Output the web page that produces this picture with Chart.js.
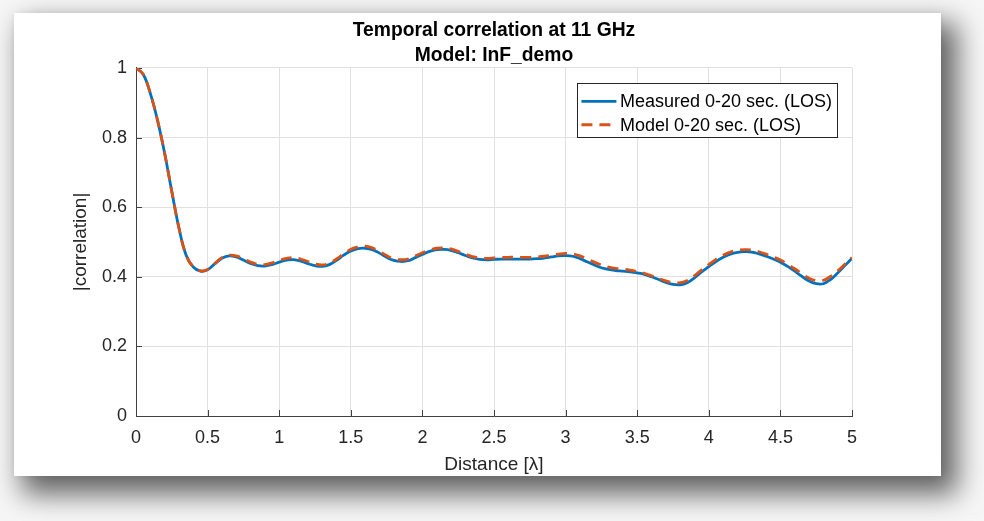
<!DOCTYPE html>
<html>
<head>
<meta charset="utf-8">
<script src="https://cdn.jsdelivr.net/npm/chart.js@4.4.1/dist/chart.umd.min.js"></script>
<style>
    body {
        margin: 0;
        width: 984px;
        height: 521px;
        overflow: hidden;
        background: #f6f6f6;
        position: relative;
    }
    #panel {
        position: absolute;
        left: 14px;
        top: 13px;
        width: 927px;
        height: 463px;
        background: #ffffff;
        box-shadow: 0 0 6px rgba(0, 0, 0, 0.06), 12px 14px 26px 4px rgba(0, 0, 0, 0.6);
    }
</style>
</head>
<body>
<div id="panel"><canvas id="corrChart" width="927" height="463"></canvas></div>
<script>
const FONT = "'Liberation Sans', Arial, Helvetica, sans-serif";

let distance = [
    0.00, 0.05, 0.10, 0.15, 0.20, 0.25, 0.30, 0.35, 0.40, 0.45,
    0.50, 0.55, 0.60, 0.65, 0.70, 0.75, 0.80, 0.85, 0.90, 0.95,
    1.00, 1.05, 1.10, 1.15, 1.20, 1.25, 1.30, 1.35, 1.40, 1.45,
    1.50, 1.55, 1.60, 1.65, 1.70, 1.75, 1.80, 1.85, 1.90, 1.95,
    2.00, 2.05, 2.10, 2.15, 2.20, 2.25, 2.30, 2.35, 2.40, 2.45,
    2.50, 2.55, 2.60, 2.65, 2.70, 2.75, 2.80, 2.85, 2.90, 2.95,
    3.00, 3.05, 3.10, 3.15, 3.20, 3.25, 3.30, 3.35, 3.40, 3.45,
    3.50, 3.55, 3.60, 3.65, 3.70, 3.75, 3.80, 3.85, 3.90, 3.95,
    4.00, 4.05, 4.10, 4.15, 4.20, 4.25, 4.30, 4.35, 4.40, 4.45,
    4.50, 4.55, 4.60, 4.65, 4.70, 4.75, 4.80, 4.85, 4.90, 4.95,
    5.00
];

let measured = [
    1.000, 0.982, 0.927, 0.850, 0.755, 0.645, 0.540, 0.462, 0.428, 0.416,
    0.420, 0.437, 0.453, 0.460, 0.457, 0.448, 0.438, 0.432, 0.431, 0.435,
    0.442, 0.448, 0.449, 0.445, 0.438, 0.432, 0.430, 0.435, 0.447, 0.462,
    0.474, 0.481, 0.482, 0.478, 0.468, 0.456, 0.447, 0.444, 0.446, 0.455,
    0.464, 0.473, 0.478, 0.479, 0.476, 0.469, 0.461, 0.454, 0.450, 0.449,
    0.450, 0.451, 0.451, 0.451, 0.451, 0.451, 0.452, 0.454, 0.457, 0.460,
    0.461, 0.459, 0.452, 0.443, 0.434, 0.426, 0.421, 0.418, 0.416, 0.414,
    0.411, 0.407, 0.400, 0.392, 0.384, 0.378, 0.377, 0.383, 0.397, 0.414,
    0.429, 0.444, 0.456, 0.465, 0.470, 0.472, 0.471, 0.466, 0.459, 0.451,
    0.442, 0.430, 0.416, 0.401, 0.388, 0.380, 0.380, 0.392, 0.411, 0.432,
    0.453
];

let model = [
    1.000, 0.982, 0.927, 0.850, 0.755, 0.645, 0.540, 0.462, 0.428, 0.417,
    0.421, 0.438, 0.455, 0.462, 0.460, 0.452, 0.442, 0.436, 0.435, 0.440,
    0.447, 0.453, 0.455, 0.451, 0.444, 0.437, 0.434, 0.439, 0.451, 0.466,
    0.479, 0.486, 0.488, 0.483, 0.473, 0.461, 0.452, 0.449, 0.451, 0.460,
    0.469, 0.477, 0.482, 0.483, 0.480, 0.473, 0.465, 0.458, 0.454, 0.453,
    0.454, 0.455, 0.456, 0.456, 0.456, 0.456, 0.457, 0.459, 0.462, 0.465,
    0.467, 0.466, 0.460, 0.451, 0.442, 0.434, 0.428, 0.424, 0.422, 0.419,
    0.415, 0.410, 0.403, 0.395, 0.388, 0.383, 0.383, 0.389, 0.403, 0.420,
    0.435, 0.450, 0.462, 0.471, 0.476, 0.478, 0.477, 0.472, 0.465, 0.457,
    0.448, 0.436, 0.423, 0.409, 0.396, 0.389, 0.390, 0.401, 0.417, 0.436,
    0.455
];

let seriesLabels = ["Measured 0-20 sec. (LOS)", "Model 0-20 sec. (LOS)"];
let titleLines = ["Temporal correlation at 11 GHz", "Model: InF_demo"];

const gridColor = "#e0e0e0";
const axisColor = "#404040";

// tick labels like MATLAB: 0, 0.5, 1, 1.5 ...
const plainTick = value => String(Number(value.toFixed(2)));

// MATLAB style ticks pointing into the axes
const inwardTicks = {
    id: "inwardTicks",
    beforeDatasetsDraw(chart) {
        const ctx = chart.ctx;
        const area = chart.chartArea;
        const xs = chart.scales.x;
        const ys = chart.scales.y;
        ctx.save();
        ctx.strokeStyle = axisColor;
        ctx.lineWidth = 1;
        ctx.beginPath();
        xs.ticks.forEach(t => {
            const px = Math.round(xs.getPixelForValue(t.value)) + 0.5;
            ctx.moveTo(px, area.bottom);
            ctx.lineTo(px, area.bottom - 6);
        });
        ys.ticks.forEach(t => {
            const py = Math.round(ys.getPixelForValue(t.value)) + 0.5;
            ctx.moveTo(area.left, py);
            ctx.lineTo(area.left + 6, py);
        });
        ctx.stroke();
        ctx.restore();
    }
};

// boxed legend in the upper right of the axes
const boxLegend = {
    id: "boxLegend",
    afterDatasetsDraw(chart) {
        const ctx = chart.ctx;
        const area = chart.chartArea;
        ctx.save();
        ctx.font = "18px " + FONT;
        const textW = Math.max(...chart.data.datasets.map(d => ctx.measureText(d.label).width));
        const w = 43 + textW + 5;
        const h = 54;
        const right = area.right - 15;
        const left = right - w;
        const top = area.top + 15;
        ctx.fillStyle = "#ffffff";
        ctx.fillRect(left, top, w, h);
        ctx.strokeStyle = "#262626";
        ctx.lineWidth = 1;
        ctx.strokeRect(Math.round(left) + 0.5, Math.round(top) + 0.5, Math.round(w), h);
        chart.data.datasets.forEach((d, i) => {
            const cy = top + 18.5 + i * 23.3;
            ctx.beginPath();
            ctx.strokeStyle = d.borderColor;
            ctx.lineWidth = d.borderWidth;
            ctx.setLineDash(d.borderDash || []);
            ctx.moveTo(left + 4.5, cy);
            ctx.lineTo(left + 39.5, cy);
            ctx.stroke();
            ctx.setLineDash([]);
            ctx.fillStyle = "#000000";
            ctx.textAlign = "left";
            ctx.textBaseline = "middle";
            ctx.fillText(d.label, left + 43, cy + 1);
        });
        ctx.restore();
    }
};

new Chart(document.getElementById("corrChart"), {
    type: "line",
    data: {
        datasets: [
            {
                label: seriesLabels[0],
                data: distance.map((d, i) => ({ x: d, y: measured[i] })),
                borderColor: "#0072BD",
                borderWidth: 2.8,
                pointRadius: 0,
                tension: 0.4,
                fill: false,
                order: 1
            },
            {
                label: seriesLabels[1],
                data: distance.map((d, i) => ({ x: d, y: model[i] })),
                borderColor: "#D95319",
                borderWidth: 2.8,
                borderDash: [11, 7],
                pointRadius: 0,
                tension: 0.4,
                fill: false,
                order: 0
            }
        ]
    },
    options: {
        responsive: false,
        animation: false,
        devicePixelRatio: 1,
        layout: {
            padding: { left: 0, right: 89, top: 0, bottom: 0 }
        },
        plugins: {
            legend: { display: false },
            tooltip: { enabled: false },
            title: {
                display: true,
                fullSize: false,
                text: titleLines,
                color: "#000000",
                font: { family: FONT, size: 19.3, weight: "bold", lineHeight: 1.32 },
                padding: { top: 4.5, bottom: -0.5 }
            }
        },
        scales: {
            x: {
                type: "linear",
                min: 0,
                max: 5,
                ticks: {
                    stepSize: 0.5,
                    color: "#262626",
                    font: { family: FONT, size: 18 },
                    padding: 11.5,
                    maxRotation: 0,
                    callback: plainTick
                },
                grid: { color: gridColor, drawTicks: false },
                border: { display: true, color: axisColor, width: 1 },
                title: {
                    display: true,
                    text: "Distance [λ]",
                    color: "#262626",
                    font: { family: FONT, size: 19 },
                    padding: { top: 0, bottom: 0 }
                },
                afterFit(scale) { scale.height = 60; }
            },
            y: {
                type: "linear",
                min: 0,
                max: 1,
                ticks: {
                    stepSize: 0.2,
                    color: "#262626",
                    font: { family: FONT, size: 18 },
                    padding: 9,
                    callback: plainTick
                },
                grid: { color: gridColor, drawTicks: false },
                border: { display: true, color: axisColor, width: 1 },
                title: {
                    display: true,
                    text: "|correlation|",
                    color: "#262626",
                    font: { family: FONT, size: 19 },
                    padding: { top: 55.5, bottom: 0 }
                },
                afterFit(scale) { scale.width = 122; }
            }
        }
    },
    plugins: [inwardTicks, boxLegend]
});
</script>
</body>
</html>
